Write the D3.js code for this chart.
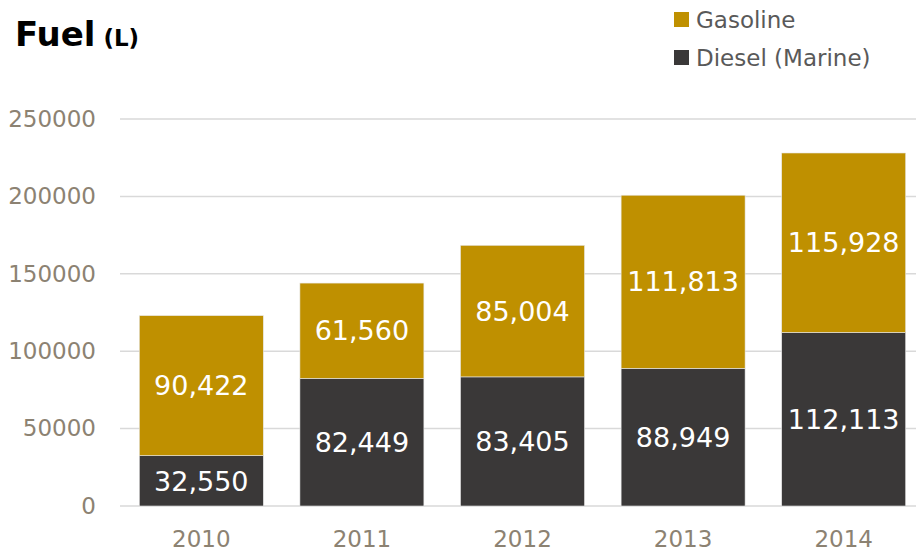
<!DOCTYPE html>
<html>
<head>
<meta charset="utf-8">
<script src="https://cdn.jsdelivr.net/npm/d3@7"></script>
<style>
  body { margin: 0; background: #fff; }
  svg { display: block; font-family: "DejaVu Sans", sans-serif; }
</style>
</head>
<body>
<svg id="chart" width="916" height="556"></svg>
<script>
// data
const years = ["2010", "2011", "2012", "2013", "2014"];
const diesel = [32550, 82449, 83405, 88949, 112113];
const gasoline = [90422, 61560, 85004, 111813, 115928];
const yTicks = [0, 50000, 100000, 150000, 200000, 250000];
const seriesNames = ["Gasoline", "Diesel (Marine)"];
const seriesColors = ["#bf9000", "#3a3838"];

const svg = d3.select("#chart");

const x = d3.scaleBand().domain(years).range([121, 924]).paddingInner(0.228).paddingOuter(0.114);
const y = d3.scaleLinear().domain([0, 250000]).range([506, 119]);

// gridlines
svg.append("g").selectAll("line").data(yTicks).enter().append("line")
    .attr("x1", 120).attr("x2", 916)
    .attr("y1", d => y(d)).attr("y2", d => y(d))
    .attr("stroke", "#d9d9d9").attr("stroke-width", 1.5);

// y axis labels
const yAxis = svg.append("g").attr("transform", "translate(108,0)")
    .call(d3.axisLeft(y).tickValues(yTicks).tickSize(0).tickPadding(12).tickFormat(d3.format("d")));
yAxis.attr("font-family", null).attr("font-size", null);
yAxis.select(".domain").remove();
yAxis.selectAll("text").attr("fill", "#8c8272").style("font-size", "23px");

// x axis labels
const xAxis = svg.append("g").attr("transform", "translate(0,518)")
    .call(d3.axisBottom(x).tickSize(0).tickPadding(13));
xAxis.attr("font-family", null).attr("font-size", null);
xAxis.select(".domain").remove();
xAxis.selectAll("text").attr("fill", "#8c8272").style("font-size", "23px");

// stacked bars
const rows = years.map((yr, i) => ({ year: yr, diesel: diesel[i], gasoline: gasoline[i] }));
const stack = d3.stack().keys(["diesel", "gasoline"])(rows);
const colorOf = { diesel: seriesColors[1], gasoline: seriesColors[0] };

stack.forEach(layer => {
    const g = svg.append("g");
    g.selectAll("rect").data(layer).enter().append("rect")
        .attr("x", d => x(d.data.year))
        .attr("width", x.bandwidth())
        .attr("y", d => y(d[1]))
        .attr("height", d => y(d[0]) - y(d[1]))
        .attr("fill", colorOf[layer.key])
        .attr("stroke", "#e8e8e8").attr("stroke-width", 0.6);
    g.selectAll("text").data(layer).enter().append("text")
        .attr("x", d => x(d.data.year) + x.bandwidth() / 2)
        .attr("y", d => (y(d[0]) + y(d[1])) / 2)
        .attr("dy", "0.36em")
        .attr("text-anchor", "middle")
        .attr("fill", "#fff")
        .style("font-size", "27px")
        .text(d => d3.format(",")(d.data[layer.key]));
});

// title
const title = svg.append("text").attr("x", 15).attr("y", 46).attr("fill", "#000").attr("font-weight", "bold");
title.append("tspan").style("font-size", "34px").text("Fuel");
title.append("tspan").style("font-size", "23px").attr("dx", 8).text("(L)");

// legend
const legend = svg.append("g").attr("transform", "translate(674,12)");
const items = legend.selectAll("g").data(seriesNames).enter().append("g")
    .attr("transform", (d, i) => `translate(0,${i * 38})`);
items.append("rect").attr("width", 15).attr("height", 15).attr("fill", (d, i) => seriesColors[i]);
items.append("text").attr("x", 22).attr("y", 8).attr("dy", "0.36em")
    .attr("fill", "#595959").style("font-size", "23px").text(d => d);
</script>
</body>
</html>
